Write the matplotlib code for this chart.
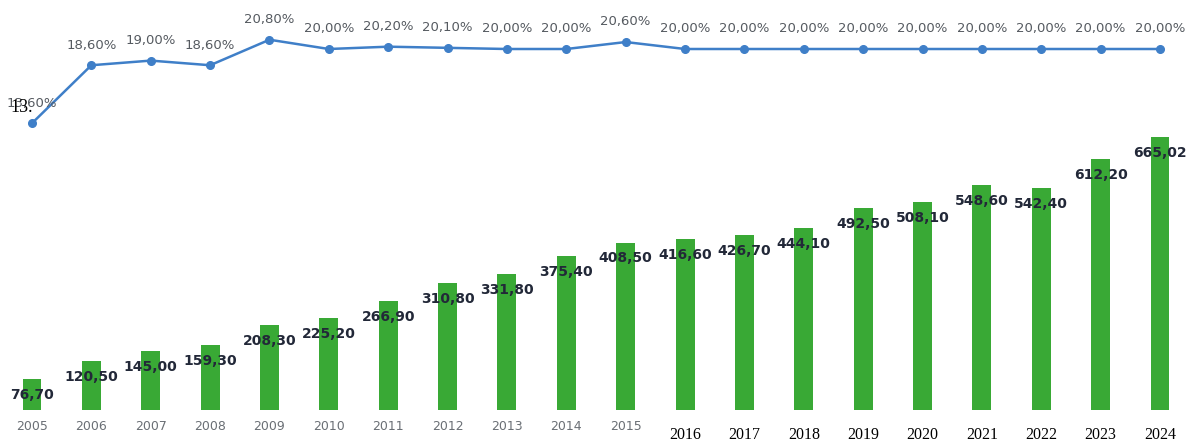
import matplotlib
matplotlib.use("Agg")
import matplotlib.pyplot as plt
import matplotlib.transforms as mtransforms

years = [str(y) for y in range(2005, 2025)]
bar_values = [76.70, 120.50, 145.00, 159.30, 208.30, 225.20, 266.90, 310.80, 331.80, 375.40,
              408.50, 416.60, 426.70, 444.10, 492.50, 508.10, 548.60, 542.40, 612.20, 665.02]
pct_values = [13.60, 18.60, 19.00, 18.60, 20.80, 20.00, 20.20, 20.10, 20.00, 20.00,
              20.60, 20.00, 20.00, 20.00, 20.00, 20.00, 20.00, 20.00, 20.00, 20.00]

def fmt(v, d=2):
    return f"{v:.{d}f}".replace(".", ",")

W, H = 1203, 443
fig = plt.figure(figsize=(W / 100, H / 100), dpi=100)
fig.patch.set_facecolor("white")
ax = fig.add_axes([0, 0, 1, 1])
ax2 = ax.twinx()

x = list(range(len(years)))
step = (1160 - 32) / 19.0
ax.set_xlim(-32 / step, (W - 32) / step)

bscale = 0.41
ax.set_ylim(-33 / bscale, (H - 33) / bscale)
lscale = 11.6
ax2.set_ylim(20 - 394 / lscale, 20 + 49 / lscale)

green = "#39a935"
blue = "#3f7fc8"

ax.bar(x, bar_values, width=0.32, color=green, zorder=2)
for xi, v in zip(x, bar_values):
    ax.annotate(fmt(v), (xi, v), xytext=(0, -11.5), textcoords="offset points",
                ha="center", va="center", fontsize=10, fontweight="bold",
                color="#222838", zorder=5)

ax2.plot(x, pct_values, color=blue, lw=1.8, marker="o", ms=5.5, zorder=3)
for xi, v in zip(x, pct_values):
    ax2.annotate(fmt(v) + "%", (xi, v), xytext=(0, 14.5), textcoords="offset points",
                 ha="center", va="center", fontsize=9.5, color="#555a60", zorder=5)

# overlay seen in the reference on the first label
fig.text(10 / W, 1 - 108 / H, "13.", fontsize=13, family="Liberation Serif",
         color="black", ha="left", va="center", zorder=10)

trans = mtransforms.blended_transform_factory(ax.transData, ax.transAxes)
for xi, yr in zip(x, years):
    if int(yr) <= 2015:
        ax.text(xi, 1 - 427 / H, yr, transform=trans, ha="center", va="center",
                fontsize=9, color="#6a6f75")
    else:
        ax.text(xi, 1 - 435 / H, yr, transform=trans, ha="center", va="center",
                fontsize=11.5, color="black", family="Liberation Serif")

for a in (ax, ax2):
    a.axis("off")

fig.savefig("out.png", dpi=100, facecolor="white")
